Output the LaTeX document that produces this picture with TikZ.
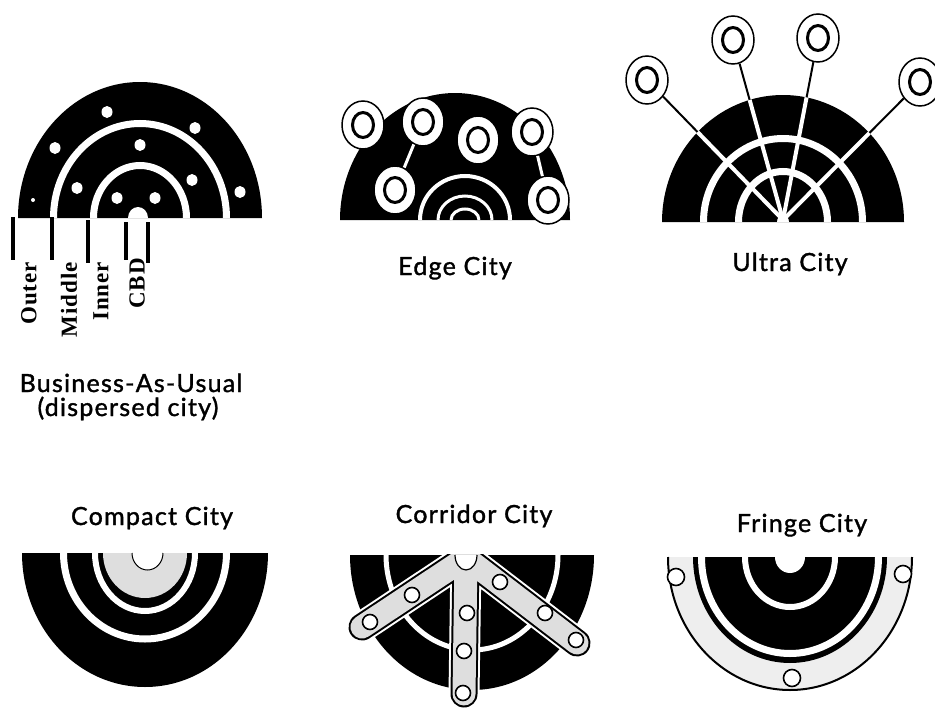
\documentclass[tikz,border=0pt]{standalone}
\usepackage{fontspec}
\setmainfont{Liberation Serif}
\newfontfamily\capfont[LetterSpace=5,FakeBold=1.4]{Lato}
\newfontfamily\zonefont[LetterSpace=4]{Liberation Serif}
\usetikzlibrary{shapes.geometric}
\definecolor{speckgray}{RGB}{222,222,222}
\definecolor{fringegray}{RGB}{238,238,238}
\tikzset{
  city/.style={fill=black},
  whitering/.style={draw=white,line width=7pt},
  dot/.style={ellipse,fill=white,minimum width=11pt,minimum height=12pt,inner sep=0pt},
  hub/.style={ellipse,draw=black,line width=1.5pt,fill=white,minimum width=42pt,minimum height=48pt,inner sep=0pt},
  hubcore/.style={ellipse,draw=black,line width=3pt,fill=white,minimum width=21pt,minimum height=25pt,inner sep=0pt},
  station/.style={circle,draw=black,line width=1.6pt,fill=white,minimum size=15pt,inner sep=0pt},
  road/.style={draw=white,line width=3pt},
  spoke/.style={draw=white,line width=4pt},
  tether/.style={draw=black,line width=2pt},
  zonebar/.style={draw=black,line width=3.5pt},
  band/.style={line cap=round,line join=round},
  zonelabel/.style={font=\zonefont\bfseries\fontsize{23}{23}\selectfont,rotate=90,anchor=east,inner sep=0pt},
  title/.style={font=\capfont\fontsize{25}{28}\selectfont,anchor=base,inner sep=0pt}
}

\begin{document}
\begin{tikzpicture}[x=1pt,y=-1pt]
  \useasboundingbox (0,0) rectangle (935,712);

  %% Business-As-Usual
  \fill[city] (18,218) arc[start angle=180,end angle=360,x radius=122,y radius=136] -- cycle;
  \draw[whitering] (53.5,218) arc[start angle=180,end angle=360,x radius=86.5,y radius=94.5];
  \draw[whitering] (93.5,218) arc[start angle=180,end angle=360,x radius=46.5,y radius=52.5];
  \fill[white] (128,218) arc[start angle=180,end angle=360,x radius=10,y radius=11] -- cycle;
  \foreach \x/\y in {107/112,195/128,55/148,140/145,192/180,77/188,240/192,117/198,155/198}
    \node[dot] at (\x,\y) {};
  \node[dot,minimum width=4pt,minimum height=4pt] at (33,200) {};
  \foreach \x/\a/\b in {13/217/260,52/217/260,88/220/263,126/222/260,148/222/263}
    \draw[zonebar] (\x,\a) -- (\x,\b);
  \node[zonelabel] (outer) at (29,262) {Outer};
  \node[zonelabel] (middle) at (69,262) {Middle};
  \node[zonelabel] (inner) at (101,262) {Inner};
  \node[zonelabel] (cbd) at (137,258) {CBD};
  \node[title] (bau) at (131,392) {Business-As-Usual};
  \node[title] (baudisp) at (128,416) {(dispersed city)};

  %% Edge City
  \fill[city] (340,220) arc[start angle=180,end angle=360,x radius=115,y radius=127] -- cycle;
  \draw[white,line width=4pt] (420,220) arc[start angle=180,end angle=360,x radius=45,y radius=44];
  \draw[white,line width=3pt] (438,220) arc[start angle=180,end angle=360,x radius=27,y radius=24];
  \draw[white,line width=3pt] (451,220) arc[start angle=180,end angle=360,x radius=14,y radius=11];
  \foreach \n/\x/\y in {e1/363/125,e2/423/122,e3/478/140,e4/532/132,e5/395/190,e6/548/200}{
    \node[hub] (\n) at (\x,\y) {};
    \node[hubcore] (\n-in) at (\n) {};
  }
  \draw[road] (e5) -- (e2);
  \draw[road] (e4) -- (e6);
  \node[title] (edge) at (455,275) {Edge City};

  %% Ultra City
  \coordinate (uc) at (783,220);
  \foreach \n/\x/\y in {u1/647/80,u2/733/40,u3/818/38,u4/920/82}{
    \node[hub] (\n) at (\x,\y) {};
    \node[hubcore] (\n-in) at (\n) {};
    \draw[tether] (uc) -- (\n);
  }
  \fill[city] (662,222) arc[start angle=180,end angle=360,x radius=121,y radius=127] -- cycle;
  \draw[whitering] (703.5,222) arc[start angle=180,end angle=360,x radius=79.5,y radius=83.5];
  \draw[whitering] (738.5,222) arc[start angle=180,end angle=360,x radius=44.5,y radius=50.5];
  \begin{scope}
    \clip (662,222) arc[start angle=180,end angle=360,x radius=121,y radius=127] -- cycle;
    \foreach \n in {u1,u2,u3,u4}
      \draw[spoke] (uc) -- (\n);
  \end{scope}
  \fill[white] (777,222) arc[start angle=180,end angle=360,x radius=6,y radius=7] -- cycle;
  \node[title] (ultra) at (790,271) {Ultra City};

  %% Compact City
  \node[title] (compact) at (152,525) {Compact City};
  \fill[city] (22,553) arc[start angle=180,end angle=0,x radius=123,y radius=134] -- cycle;
  \draw[whitering] (63.5,553) arc[start angle=180,end angle=0,x radius=81.5,y radius=86];
  \draw[whitering,line width=6pt] (95,553) arc[start angle=180,end angle=0,x radius=50,y radius=58];
  \fill[speckgray] (103,553) arc[start angle=180,end angle=0,x radius=42,y radius=45] -- cycle;
  \fill[white] (132,553) arc[start angle=180,end angle=0,x radius=15.5,y radius=17] -- cycle;
  \draw[line width=1pt] (132,553) arc[start angle=180,end angle=0,x radius=15.5,y radius=17];

  %% Corridor City
  \node[title] (corridor) at (474,523) {Corridor City};
  \fill[city] (350,555) arc[start angle=180,end angle=0,x radius=122,y radius=135] -- cycle;
  \draw[whitering,line width=5pt] (386,555) arc[start angle=180,end angle=0,x radius=86,y radius=95];
  \coordinate (ca) at (466,558);
  \coordinate (cl) at (362,627);
  \coordinate (cr) at (577,643);
  \coordinate (cb) at (464,694);
  \begin{scope}
    \clip (300,554) rectangle (650,712);
    \draw[band,white,line width=31pt] (cl) -- (ca) -- (cr) (ca) -- (cb);
    \draw[band,black,line width=27pt] (cl) -- (ca) -- (cr) (ca) -- (cb);
    \draw[band,speckgray,line width=23pt] (cl) -- (ca) -- (cr) (ca) -- (cb);
  \end{scope}
  \fill[white] (455,555) arc[start angle=180,end angle=0,x radius=11,y radius=15] -- cycle;
  \draw[line width=1.2pt] (455,555) arc[start angle=180,end angle=0,x radius=11,y radius=15];
  \foreach \n/\x/\y in {s1/370/622,s2/412/595,s3/500/582,s4/545/613,s5/576/640,s6/467/613,s7/464/651,s8/463/693}
    \node[station] (\n) at (\x,\y) {};

  %% Fringe City
  \node[title] (fringe) at (802,532) {Fringe City};
  \fill[fringegray] (668,557) arc[start angle=180,end angle=0,x radius=122,y radius=133] -- cycle;
  \draw[line width=2pt] (668,557) arc[start angle=180,end angle=0,x radius=122,y radius=133];
  \fill[city] (693,557) arc[start angle=180,end angle=0,x radius=97,y radius=106] -- cycle;
  \draw[whitering] (701.5,557) arc[start angle=180,end angle=0,x radius=88.5,y radius=96.5];
  \draw[whitering,line width=6pt] (745,557) arc[start angle=180,end angle=0,x radius=45,y radius=50];
  \fill[white] (775,557) arc[start angle=180,end angle=0,x radius=15,y radius=16] -- cycle;
  \foreach \n/\x/\y in {f1/676/577,f2/903/574,f3/792/678}
    \node[station,minimum size=17pt] (\n) at (\x,\y) {};
\end{tikzpicture}
\end{document}
